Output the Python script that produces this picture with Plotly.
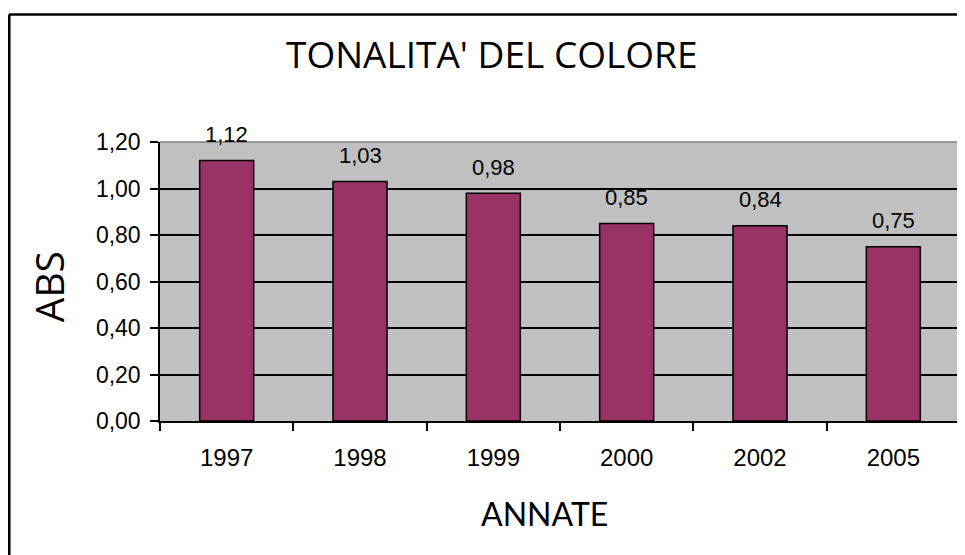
import plotly.graph_objects as go

years = ["1997", "1998", "1999", "2000", "2002", "2005"]
abs_values = [1.12, 1.03, 0.98, 0.85, 0.84, 0.75]
value_labels = ["1,12", "1,03", "0,98", "0,85", "0,84", "0,75"]

fig = go.Figure()
fig.add_trace(go.Bar(
    x=years, y=abs_values,
    width=0.405,
    marker=dict(color="#993366", line=dict(color="black", width=1.5)),
    hoverinfo="skip",
))

annotations = []
for i, (v, lab) in enumerate(zip(abs_values, value_labels)):
    annotations.append(dict(x=i, y=v, xref="x", yref="y", text=lab, showarrow=False,
                            yanchor="middle", yshift=26,
                            font=dict(family="Liberation Sans, Arial", size=22, color="black")))

annotations += [
    dict(text="TONALITA' DEL COLORE", x=0.414, y=1.317, xref="paper", yref="paper",
         showarrow=False, xanchor="center", yanchor="middle",
         font=dict(family="Open Sans", size=37, color="black")),
    dict(text="ABS", x=-0.14, y=0.483, xref="paper", yref="paper", textangle=-90,
         showarrow=False, xanchor="center", yanchor="middle",
         font=dict(family="Open Sans", size=39, color="black")),
    dict(text="ANNATE", x=0.481, y=-0.33, xref="paper", yref="paper",
         showarrow=False, xanchor="center", yanchor="middle",
         font=dict(family="Lato", size=32, color="black")),
]

shapes = [
    dict(type="line", xref="paper", yref="paper", x0=-0.18875, x1=-0.18875, y0=-0.6, y1=1.457,
         line=dict(color="black", width=3)),
    dict(type="line", xref="paper", yref="paper", x0=-0.18875, x1=1.2, y0=1.457, y1=1.457,
         line=dict(color="black", width=2.5)),
    dict(type="line", xref="paper", yref="paper", x0=0, x1=1, y0=1, y1=1,
         line=dict(color="#808080", width=1.5), layer="below"),
    dict(type="line", xref="paper", yref="paper", x0=1, x1=1, y0=0, y1=1,
         line=dict(color="#808080", width=1.5), layer="below"),
]

fig.update_layout(
    width=957, height=547,
    margin=dict(l=152, r=5, t=134, b=134),
    paper_bgcolor="white",
    plot_bgcolor="#c0c0c0",
    separators=", ",
    showlegend=False,
    annotations=annotations,
    shapes=shapes,
    font=dict(family="Liberation Sans, Arial", size=20, color="black"),
)
fig.update_xaxes(
    type="category", range=[-0.5, 5.5], tickson="boundaries", ticks="outside", ticklen=8, tickwidth=1.5,
    tickcolor="black", showline=True, linecolor="black", linewidth=1.5, showgrid=False,
    ticklabelstandoff=14, tickangle=0,
    tickfont=dict(family="Liberation Sans, Arial", size=24, color="black"),
)
fig.update_yaxes(
    range=[0, 1.2], dtick=0.2, tickformat=".2f", ticks="outside", ticklen=8, tickwidth=1.5,
    tickcolor="black", showline=True, linecolor="black", linewidth=1.5,
    showgrid=True, gridcolor="black", gridwidth=1.5, zeroline=False,
    ticklabelstandoff=5,
    tickfont=dict(family="Liberation Sans, Arial", size=23, color="black"),
)

fig.write_html("out.html")
